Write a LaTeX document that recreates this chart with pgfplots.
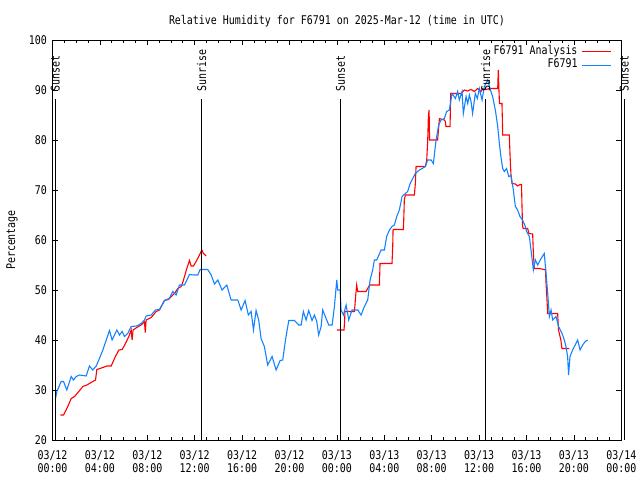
\documentclass[border=0pt]{standalone}
\usepackage{fontspec}
\setmainfont{DejaVu Sans Mono}[FakeStretch=0.83]
\usepackage{pgfplots}
\pgfplotsset{compat=1.18}
\definecolor{obsblue}{RGB}{20,130,255}
\definecolor{anared}{RGB}{255,0,0}
\newcommand\gfont{\fontsize{12}{13}\selectfont}

\begin{document}
\begin{tikzpicture}
\useasboundingbox (-52.5pt,-40pt) rectangle (587.5pt,440pt);
\begin{axis}[
    at={(0pt,0pt)}, anchor=south west,
    scale only axis, width=568.8pt, height=400pt,
    xmin=0, xmax=48, ymin=20, ymax=100,
    clip=false,
    unbounded coords=jump,
    axis line style={line width=0.8pt},
    tick align=inside,
    major tick length=5pt, minor tick length=3pt,
    tick style={black, line width=0.8pt},
    xtick={0,4,...,48},
    minor x tick num=3,
    ytick={20,30,...,100},
    xticklabels={{03/12\\00:00},{03/12\\04:00},{03/12\\08:00},{03/12\\12:00},
        {03/12\\16:00},{03/12\\20:00},{03/13\\00:00},{03/13\\04:00},
        {03/13\\08:00},{03/13\\12:00},{03/13\\16:00},{03/13\\20:00},{03/14\\00:00}},
    xticklabel style={align=center, font=\gfont, yshift=-7pt},
    yticklabel style={font=\gfont, xshift=-2pt},
    /pgf/number format/assume math mode=true,
    title={Relative Humidity for F6791 on 2025-Mar-12 (time in UTC)},
    title style={at={(axis description cs:0.5,1)}, anchor=center, yshift=13pt, font=\gfont},
    ylabel={Percentage},
    ylabel style={at={(axis description cs:-0.071,0.5)}, anchor=center, font=\gfont},
    legend plot pos=right,
    legend cell align=right,
    legend image code/.code={\draw[#1] (0pt,0pt) -- (29pt,0pt);},
    legend style={at={(axis description cs:1,1)}, anchor=north east,
        xshift=-10pt, yshift=-4.5pt, draw=none, fill=none, font=\gfont,
        inner sep=0pt, row sep=0pt, column sep=2pt,
        nodes={inner sep=1.5pt, text height=8pt, text depth=2.8pt}},
]
% analysis
\addplot[anared, line width=1.1pt] coordinates {
(0.67,25.0) (0.93,25.0) (1.29,26.7) (1.58,28.3) (1.86,28.7) (2.22,29.7)
(2.56,30.7) (2.90,31.0) (3.26,31.5) (3.63,32.0) (3.74,34.1) (4.25,34.5)
(4.58,34.8) (4.95,34.8) (5.31,36.7) (5.60,38.0) (5.88,38.1) (6.16,39.3)
(6.44,40.7) (6.64,42.0) (6.72,40.0) (6.80,42.0) (7.11,42.5) (7.48,43.0)
(7.76,43.6) (7.83,41.5) (7.90,44.0) (8.33,44.5) (8.75,45.7) (9.03,46.0)
(9.45,47.9) (9.87,48.3) (10.29,49.3) (10.57,50.3) (10.86,50.7) (10.99,51.5)
(11.14,52.7) (11.33,54.3) (11.56,55.9) (11.70,54.8) (11.90,54.8) (12.12,55.7)
(12.40,57.0) (12.60,58.0) (12.74,57.3) (12.97,56.8)
(13.00,nan)
(24.00,42.0) (24.60,42.0) (24.65,43.7) (24.68,45.7) (25.48,45.7) (25.60,49.3)
(25.67,51.0) (25.75,49.7) (26.46,49.7) (26.69,50.7) (26.75,51.0) (27.59,51.0)
(27.64,55.3) (28.65,55.3) (28.71,58.7) (28.74,62.1) (29.61,62.1) (29.64,64.0)
(29.69,68.0) (29.78,69.0) (30.54,69.0) (30.62,71.3) (30.68,74.7) (31.47,74.7)
(31.58,76.0) (31.66,79.7) (31.72,84.7) (31.78,86.0) (31.82,80.0) (32.50,80.0)
(32.65,84.3) (32.90,84.1) (33.07,84.0) (33.15,83.7) (33.20,82.7) (33.55,82.7)
(33.60,89.3) (34.48,89.3) (34.76,90.0) (35.04,89.8) (35.32,90.1) (35.60,89.7)
(35.88,90.3) (36.16,89.7) (36.30,90.3) (36.60,90.1) (36.86,90.3) (37.57,90.3)
(37.62,94.0) (37.67,90.3) (37.72,87.3) (37.93,87.3) (37.97,83.3) (37.99,81.0)
(38.55,81.0) (38.61,77.0) (38.69,73.0) (38.78,71.3) (39.06,71.2) (39.25,70.8)
(39.45,71.1) (39.58,71.1) (39.62,66.7) (39.67,62.7) (39.73,62.3) (40.10,62.3)
(40.20,61.3) (40.52,61.2) (40.58,57.3) (40.66,54.3) (41.08,54.3) (41.50,54.1)
(41.60,54.1) (41.65,51.3) (41.70,49.3) (41.79,45.3) (42.63,45.3) (42.70,42.0)
(42.90,40.0) (42.99,38.3) (43.60,38.3)
};
\addlegendentry{F6791 Analysis}
% observations
\addplot[obsblue, line width=1.1pt] coordinates {
(0.23,28.0) (0.37,29.7) (0.73,31.7) (0.93,31.7) (1.21,30.0) (1.58,32.7)
(1.77,32.0) (2.00,32.7) (2.28,33.0) (2.84,32.8) (3.12,34.8) (3.40,34.0)
(3.69,34.8) (3.96,36.3) (4.25,38.0) (4.58,40.3) (4.81,41.9) (5.03,40.0)
(5.43,42.0) (5.65,41.0) (5.88,41.7) (6.07,40.7) (6.35,41.3) (6.64,42.7)
(7.11,42.8) (7.48,43.3) (7.76,44.0) (7.90,44.8) (8.33,45.0) (8.69,46.0)
(9.03,46.1) (9.45,47.9) (9.81,48.1) (10.15,49.7) (10.43,49.0) (10.71,51.0)
(11.14,51.0) (11.56,53.1) (11.98,53.0) (12.26,53.0) (12.46,54.1) (13.10,54.1)
(13.39,53.0) (13.67,51.2) (13.95,52.0) (14.31,50.0) (14.71,51.0) (15.07,48.0)
(15.64,48.0) (15.92,46.0) (16.25,47.9) (16.53,45.0) (16.76,45.7) (16.96,42.0)
(17.18,45.9) (17.40,44.0) (17.60,40.3) (17.88,38.7) (18.16,35.0) (18.53,36.7)
(18.87,34.0) (19.21,35.9) (19.43,36.0) (19.66,40.0) (19.94,43.9) (20.42,43.9)
(20.78,43.0) (20.98,43.0) (21.17,45.7) (21.40,44.0) (21.62,45.9) (21.90,43.9)
(22.10,45.0) (22.30,43.7) (22.46,41.0) (22.67,42.7) (22.80,46.0) (23.09,44.3)
(23.31,43.0) (23.60,43.0) (23.79,46.7) (23.99,52.0) (24.07,50.0) (24.27,50.0)
(24.35,46.0) (24.55,45.0) (24.78,47.0) (25.00,44.0) (25.28,46.0) (25.56,46.0)
(25.76,46.0) (26.04,45.0) (26.32,46.7) (26.60,48.0) (26.80,52.0) (27.02,54.0)
(27.16,56.0) (27.36,56.0) (27.73,58.0) (28.01,58.0) (28.20,60.7) (28.43,62.0)
(28.65,62.7) (28.85,63.0) (29.05,64.7) (29.27,66.0) (29.50,68.7) (29.78,69.3)
(29.97,69.7) (30.18,71.3) (30.40,72.3) (30.62,73.3) (30.96,74.0) (31.19,74.3)
(31.47,74.7) (31.66,76.0) (31.95,76.0) (32.14,75.3) (32.37,80.0) (32.59,83.0)
(32.79,84.0) (33.07,84.3) (33.26,85.7) (33.49,86.0) (33.72,89.3) (34.00,88.3)
(34.19,89.7) (34.33,88.0) (34.56,89.7) (34.67,85.3) (34.90,88.7) (35.04,87.3)
(35.18,89.0) (35.32,87.7) (35.45,85.3) (35.68,89.3) (35.85,88.3) (36.02,90.3)
(36.25,88.0) (36.44,90.7) (36.72,92.0) (36.92,90.3) (37.14,88.7) (37.37,86.0)
(37.57,82.7) (37.71,79.3) (37.85,76.5) (37.99,74.3) (38.13,73.7) (38.32,74.3)
(38.50,72.7) (38.69,72.9) (38.89,70.0) (39.06,66.7) (39.25,66.0) (39.45,64.7)
(39.67,64.0) (39.90,62.7) (40.01,61.7) (40.24,60.7) (40.38,58.0) (40.58,54.0)
(40.75,56.0) (40.94,55.0) (41.23,56.3) (41.50,57.3) (41.65,53.3) (41.79,49.3)
(41.93,44.7) (42.07,46.0) (42.21,44.0) (42.49,44.7) (42.71,42.7) (43.00,41.3)
(43.19,40.0) (43.33,38.7) (43.47,36.7) (43.55,33.0) (43.67,36.7) (43.89,38.0)
(44.17,39.3) (44.32,40.0) (44.52,38.0) (44.74,39.0) (44.96,39.7) (45.16,40.0)
};
\addlegendentry{F6791}
% sunrise / sunset markers
\draw[black, line width=0.8pt] (axis cs:0.24,20) -- (axis cs:0.24,88.2);
\node[rotate=90, anchor=west, inner sep=0pt, font=\gfont] at (axis cs:0.24,89.6) {Sunset};
\draw[black, line width=0.8pt] (axis cs:12.59,20) -- (axis cs:12.59,88.2);
\node[rotate=90, anchor=west, inner sep=0pt, font=\gfont] at (axis cs:12.59,89.6) {Sunrise};
\draw[black, line width=0.8pt] (axis cs:24.30,20) -- (axis cs:24.30,88.2);
\node[rotate=90, anchor=west, inner sep=0pt, font=\gfont] at (axis cs:24.30,89.6) {Sunset};
\draw[black, line width=0.8pt] (axis cs:36.56,20) -- (axis cs:36.56,88.2);
\node[rotate=90, anchor=west, inner sep=0pt, font=\gfont] at (axis cs:36.56,89.6) {Sunrise};
\draw[black, line width=0.8pt] (axis cs:48.25,20) -- (axis cs:48.25,88.2);
\node[rotate=90, anchor=west, inner sep=0pt, font=\gfont] at (axis cs:48.25,89.6) {Sunset};
\end{axis}
\end{tikzpicture}
\end{document}
